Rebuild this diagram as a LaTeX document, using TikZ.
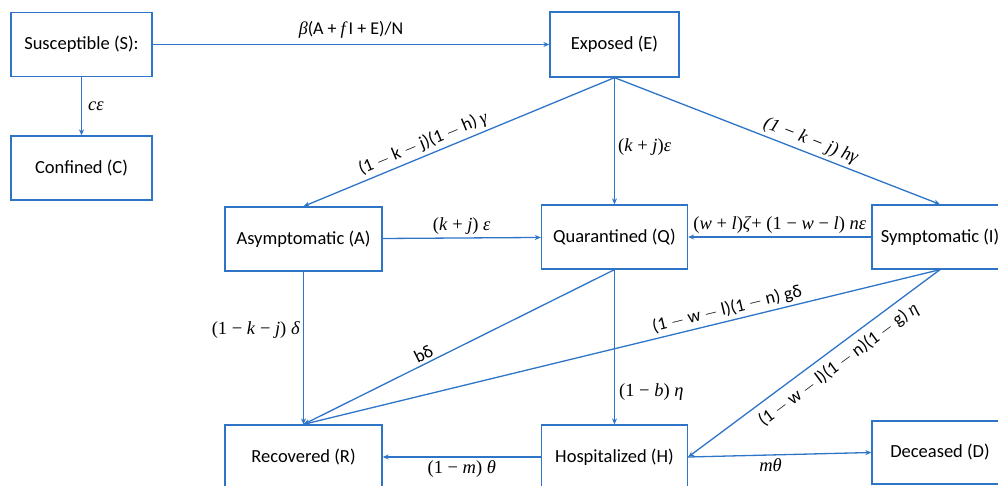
\documentclass[tikz,border=0pt]{standalone}
\usepackage{fontspec}
\setmainfont{Carlito}
\newfontfamily\mf{Liberation Serif}
\newcommand{\iv}[1]{\textit{#1}}
\usetikzlibrary{arrows.meta}
\definecolor{lineblue}{RGB}{46,117,200}
\tikzset{
  box/.style={draw=lineblue, line width=1.3pt, fill=white, inner sep=0pt, align=center, font=\fontsize{18.5}{22}\selectfont},
  flow/.style={draw=lineblue, line width=1.3pt, -{Stealth[length=6pt,width=5pt]}},
  lab/.style={font=\fontsize{18}{22}\selectfont, inner sep=2pt},
  mlab/.style={font=\mf\fontsize{18.5}{22}\selectfont, inner sep=2pt}
}
\begin{document}
\begin{tikzpicture}[x=1pt,y=-1pt]
\useasboundingbox (0,0) rectangle (998,486);
\clip (0,0) rectangle (998,486);
\fill[white] (0,0) rectangle (998,486);
% boxes
\node[box, minimum width=141pt, minimum height=64pt] (S) at (81.5,44.5) {Susceptible (S):};
\node[box, minimum width=141pt, minimum height=64pt] (C) at (81.5,168) {Confined (C)};
\node[box, minimum width=129pt, minimum height=65pt] (E) at (614.5,44.5) {Exposed (E)};
\node[box, minimum width=157pt, minimum height=64pt] (A) at (303.5,239) {Asymptomatic (A)};
\node[box, minimum width=146pt, minimum height=64pt] (Q) at (614.5,237) {Quarantined (Q)};
\node[box, minimum width=136pt, minimum height=64pt] (I) at (940,237) {Symptomatic (I)};
\node[box, minimum width=157pt, minimum height=64pt] (R) at (303.5,457) {Recovered (R)};
\node[box, minimum width=146pt, minimum height=64pt] (H) at (614.5,457) {Hospitalized (H)};
\node[box, minimum width=136pt, minimum height=63pt] (D) at (940,452.5) {Deceased (D)};
% connectors
\draw[flow] (S) -- node[lab, above=4pt] {{\mf\itshape β}(A + {\mf\itshape f}\,I + E)/N} (E);
\draw[flow] (S) -- node[mlab, right=4pt] {\iv{cε}} (C);
\draw[flow] (E.south) -- node[lab, pos=0.6, sloped, above=1pt] {(1 $-$ k $-$ j)(1 $-$ h) {\mf\itshape γ}} (A.north);
\draw[flow] (E.south) -- node[mlab, pos=0.55, right=1pt] {(\iv{k} + \iv{j})\iv{ε}} (Q.north);
\draw[flow] (E.south) -- node[mlab, pos=0.59, sloped, above=1pt] {\iv{(1 − k − j) hγ}} (I.north);
\draw[flow] (A) -- node[mlab, above=1pt] {(\iv{k} + \iv{j}) \iv{ε}} (Q);
\draw[flow] (I) -- node[mlab, above=1pt] {(\iv{w} + \iv{l})\iv{ζ}+ (1 − \iv{w} − \iv{l}) \iv{nε}} (Q);
\draw[flow] (A.south) -- node[mlab, pos=0.38, left=1pt] {(1 − \iv{k} − \iv{j}) \iv{δ}} (R.north);
\draw[flow] (Q.south) -- node[lab, pos=0.6, sloped, above=1pt] {bδ} (R.north);
\draw[flow] (Q.south) -- node[mlab, pos=0.79, right=2pt] {(1 − \iv{b}) \iv{η}} (H.north);
\draw[flow] (I.south) -- node[lab, pos=0.33, sloped, above=1pt] {(1 $-$ w $-$ l)(1 $-$ n) gδ} (R.north);
\draw[flow] (I.south) -- node[lab, pos=0.44, sloped, below=5pt] {(1 $-$ w $-$ l)(1 $-$ n)(1 $-$ g) {\mf\itshape η}} (H.east);
\draw[flow] (H) -- node[mlab, below=1pt] {(1 − \iv{m}) \iv{θ}} (R);
\draw[flow] (H.east) -- node[mlab, pos=0.45, below=1pt] {\iv{mθ}} (D.west);
\end{tikzpicture}
\end{document}
